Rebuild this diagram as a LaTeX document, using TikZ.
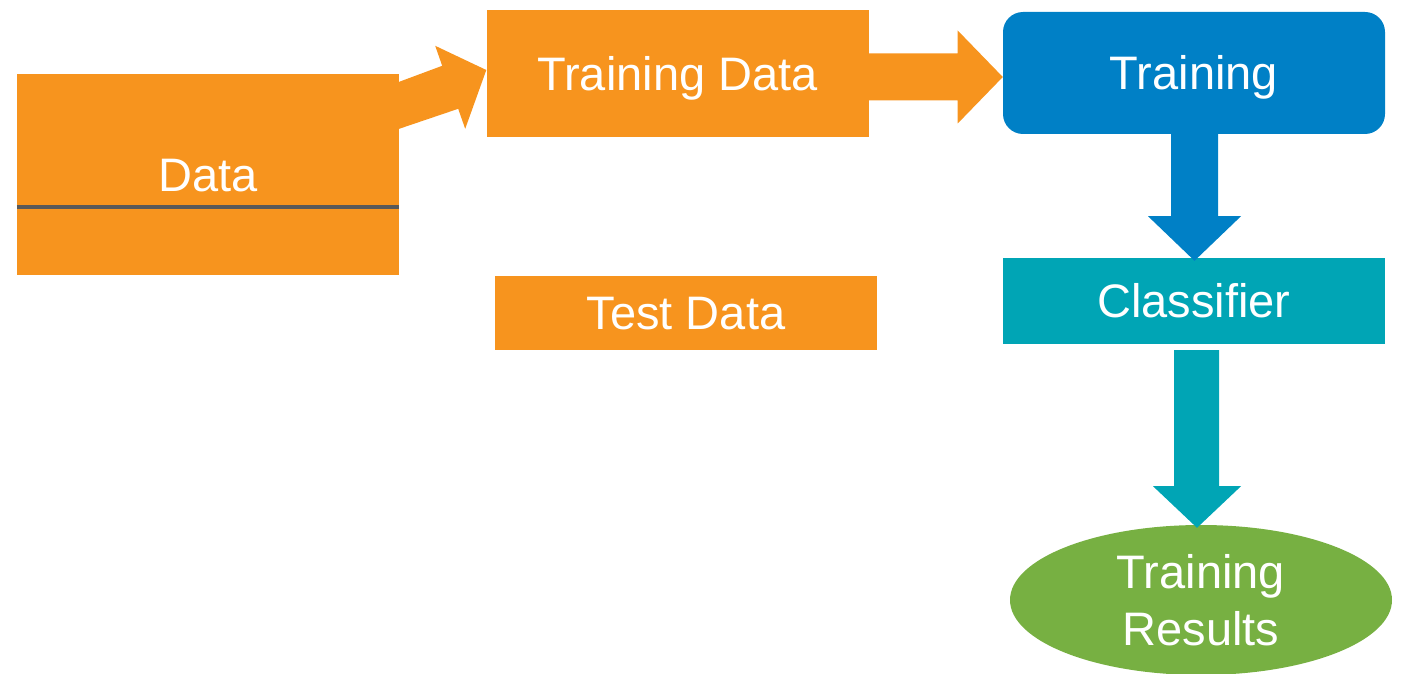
\documentclass[tikz,border=0pt]{standalone}
\usepackage{fontspec}
\setmainfont{Liberation Sans}
\usetikzlibrary{calc,shapes.geometric}
\definecolor{orangeC}{RGB}{247,148,30}
\definecolor{blueC}{RGB}{0,128,198}
\definecolor{tealC}{RGB}{0,165,181}
\definecolor{greenC}{RGB}{119,176,66}
\definecolor{lineC}{RGB}{89,89,89}
\begin{document}
\begin{tikzpicture}[x=1pt,y=-1pt,
  box/.style={inner sep=0pt, text=white, font=\fontsize{47}{57}\selectfont,
    text height=33.7pt, text depth=0pt},
  obox/.style={box, fill=orangeC, minimum width=382pt},
]
\useasboundingbox (0,0) rectangle (1401,674);
% nodes
\node[obox, minimum height=201pt] (data) at (208,174.5) {Data};
\draw[lineC, line width=4pt] (data.west |- 0,207) -- (data.east |- 0,207);
\node[obox, minimum height=127pt] (td) at (677.5,73.5) {Training Data};
\node[obox, minimum height=74pt] (test) at (686,313) {Test Data};
\node[box, fill=blueC, minimum width=382pt, minimum height=122pt, rounded corners=20pt] (tr) at (1194,73) {Training};
\node[box, fill=tealC, minimum width=382pt, minimum height=86pt] (cl) at (1194,301) {Classifier};
\node[ellipse, inner sep=0pt, fill=greenC, text=white, minimum width=382pt, minimum height=150pt,
  font=\fontsize{47}{57}\selectfont, align=center] (res) at (1201,600) {Training\\Results};
% block arrows
\fill[orangeC] ($(data.north east)+(0,8)$) -- ($(data.north east)+(43,-8)$)
  -- ($(data.north east)+(36,-28)$) -- ($(td.west)+(0,-3.5)$)
  -- ($(data.north east)+(66,55)$) -- ($(data.north east)+(59,35)$)
  -- ($(data.north east)+(0,55)$) -- cycle;
\fill[orangeC] ($(td.east)+(0,-20)$) -- ($(td.east)+(89,-20)$) -- ($(td.east)+(89,-43)$)
  -- ($(tr.west)+(0,4)$) -- ($(td.east)+(89,50)$) -- ($(td.east)+(89,27)$)
  -- ($(td.east)+(0,27)$) -- cycle;
\fill[blueC] ($(tr.south)+(-23,0)$) -- ($(tr.south)+(-23,82)$) -- ($(tr.south)+(-46,82)$)
  -- ($(cl.north)+(0.5,3)$) -- ($(tr.south)+(47,82)$) -- ($(tr.south)+(24,82)$)
  -- ($(tr.south)+(24,0)$) -- cycle;
\fill[tealC] ($(cl.south)+(-20,6)$) -- ($(cl.south)+(-20,142)$) -- ($(cl.south)+(-41,142)$)
  -- ($(res.north)+(-4,3)$) -- ($(cl.south)+(47,142)$) -- ($(cl.south)+(25,142)$)
  -- ($(cl.south)+(25,6)$) -- cycle;
\end{tikzpicture}
\end{document}
